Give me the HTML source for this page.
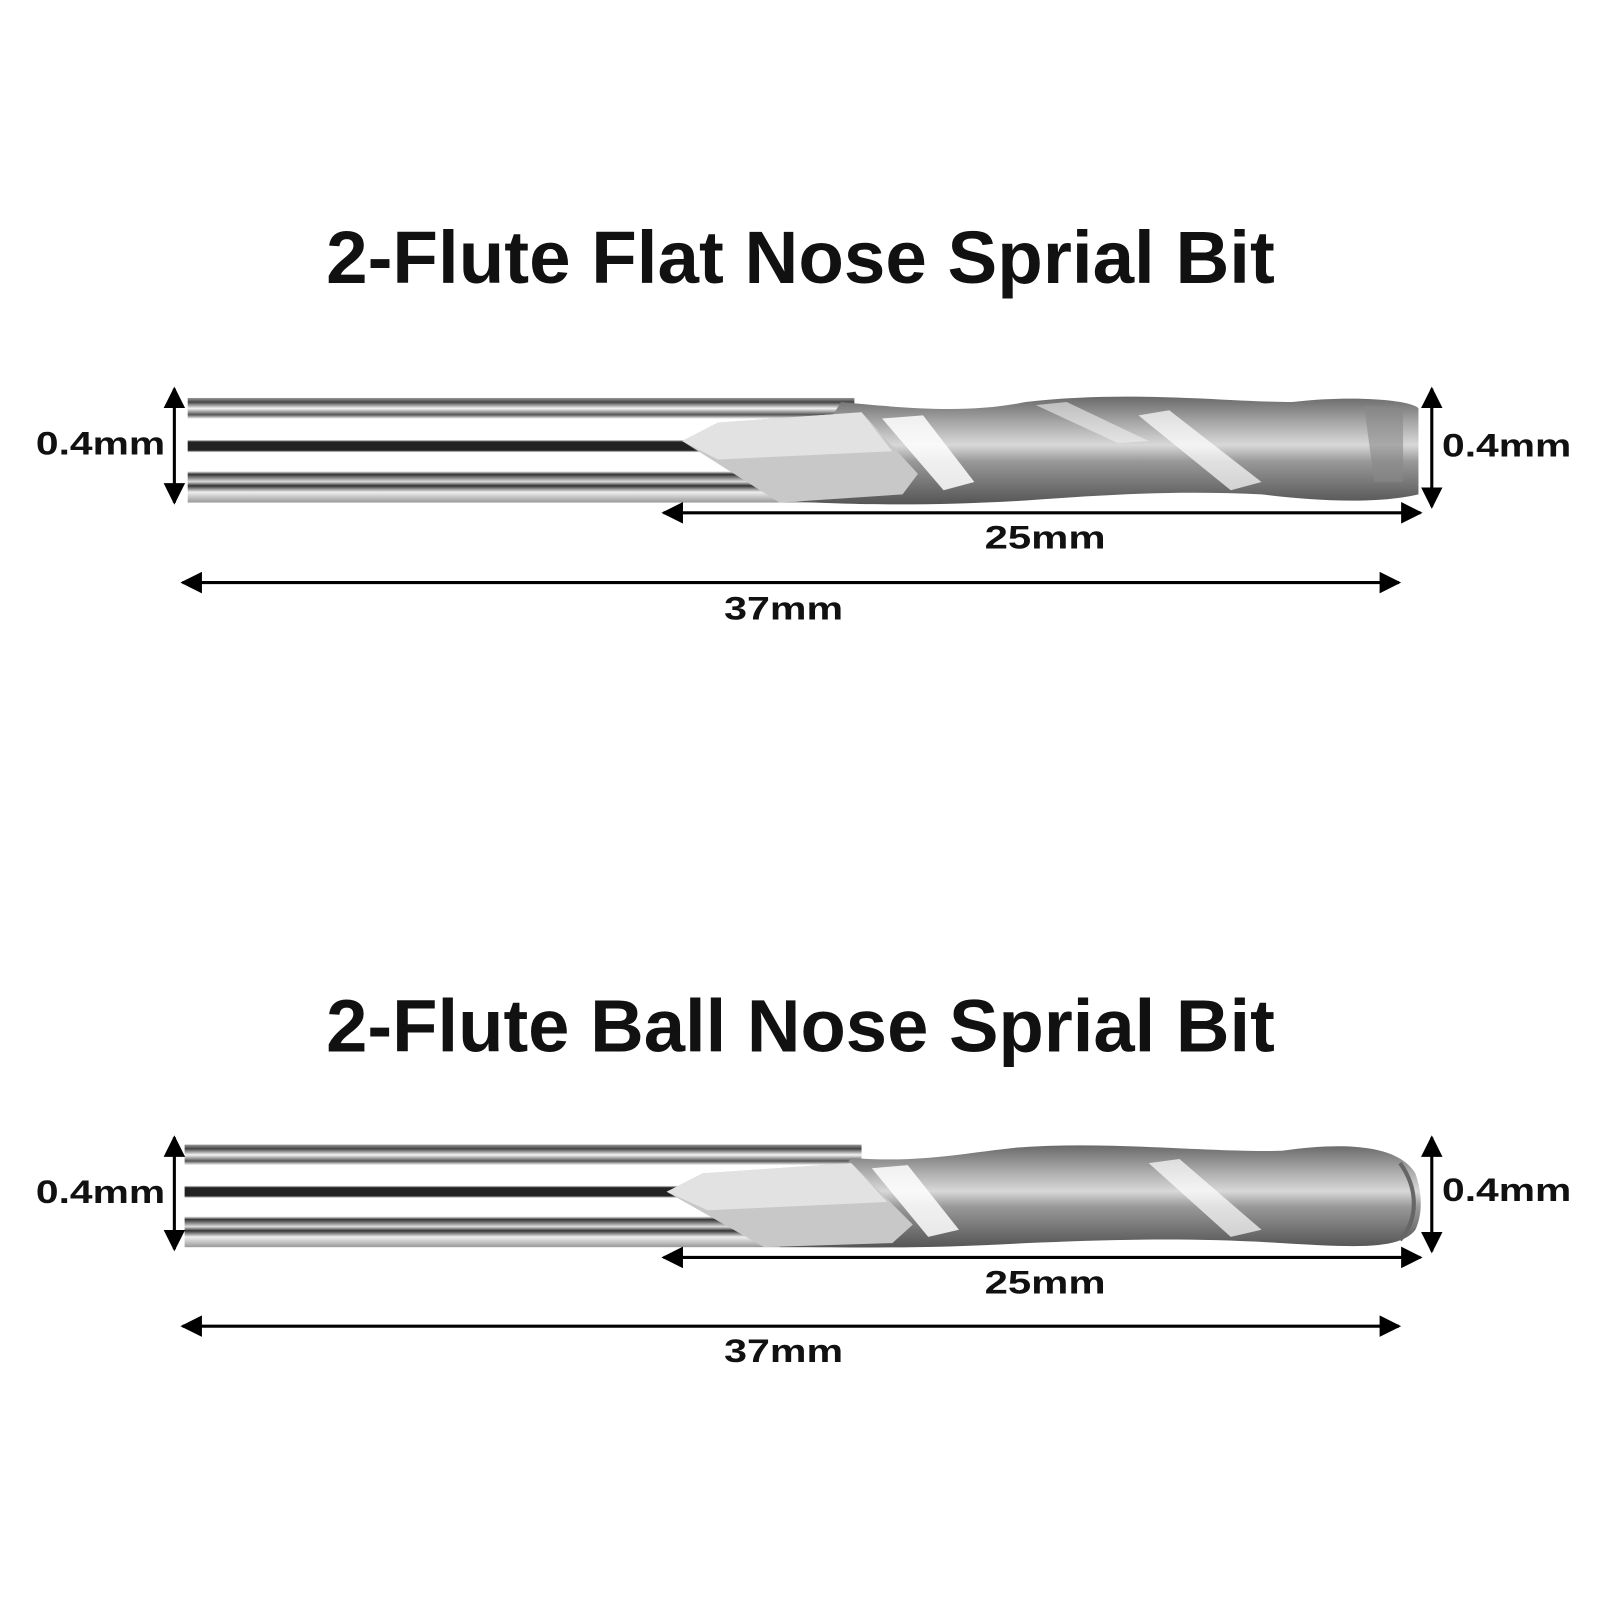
<!DOCTYPE html>
<html><head><meta charset="utf-8"><style>html,body{margin:0;padding:0;background:#fff}svg{display:block}</style></head>
<body>
<svg width="1600" height="1600" viewBox="0 0 1600 1600" xmlns="http://www.w3.org/2000/svg">
<defs>
<linearGradient id="shank" x1="0" y1="0" x2="0" y2="1">
<stop offset="0" stop-color="#9a9a9a"/><stop offset="0.04" stop-color="#444"/><stop offset="0.1" stop-color="#f4f4f4"/>
<stop offset="0.16" stop-color="#555"/><stop offset="0.2" stop-color="#fff"/><stop offset="0.4" stop-color="#fff"/>
<stop offset="0.42" stop-color="#222"/><stop offset="0.5" stop-color="#222"/><stop offset="0.52" stop-color="#fff"/>
<stop offset="0.7" stop-color="#fff"/><stop offset="0.73" stop-color="#333"/><stop offset="0.8" stop-color="#ddd"/>
<stop offset="0.84" stop-color="#333"/><stop offset="0.9" stop-color="#eee"/><stop offset="1" stop-color="#999"/>
</linearGradient>
<linearGradient id="flute" x1="0" y1="0" x2="0" y2="1">
<stop offset="0" stop-color="#6a6a6a"/><stop offset="0.25" stop-color="#aaa"/><stop offset="0.45" stop-color="#d8d8d8"/>
<stop offset="0.6" stop-color="#999"/><stop offset="0.8" stop-color="#777"/><stop offset="1" stop-color="#555"/>
</linearGradient>
<marker id="ah" viewBox="0 0 10 10" refX="9" refY="5" markerWidth="7" markerHeight="7" orient="auto-start-reverse">
<path d="M0,0 L10,5 L0,10 z" fill="#000"/></marker>
</defs>
<g transform="scale(1.02564)">
<g font-family="Liberation Sans, sans-serif" font-weight="bold" fill="#111">
<text x="318" y="276" font-size="72" textLength="925" lengthAdjust="spacingAndGlyphs">2-Flute Flat Nose Sprial Bit</text>
<text x="318" y="1025" font-size="72" textLength="925" lengthAdjust="spacingAndGlyphs">2-Flute Ball Nose Sprial Bit</text>
</g>

<g>
<rect x="183" y="388" width="650" height="102" fill="url(#shank)"/>
<path d="M820,392 C900,400 950,402 1000,392 C1100,380 1200,392 1260,392 C1320,385 1375,390 1383,398 L1383,482 C1340,492 1280,488 1230,482 C1150,478 1080,482 1000,488 C900,494 820,492 760,488 Z" fill="url(#flute)"/>
<path d="M665,430 L700,412 L840,402 L895,462 L880,482 L760,490 Z" fill="#c8c8c8"/>
<path d="M665,430 L700,412 L840,402 L870,440 L700,448 Z" fill="#e2e2e2"/>
<path d="M860,408 L900,405 L950,470 L920,478 Z" fill="#fff" opacity="0.85"/>
<path d="M1110,405 L1140,400 L1230,470 L1200,478 Z" fill="#fff" opacity="0.7"/>
<path d="M1010,395 L1040,392 L1120,430 L1090,432 Z" fill="#eee" opacity="0.6"/>
<path d="M1330,396 L1368,398 L1368,470 L1340,470 Z" fill="#888" opacity="0.6"/>
</g>

<g transform="translate(0,-6)">
<rect x="180" y="1122" width="660" height="100" fill="url(#shank)"/>
<path d="M830,1135 C900,1140 940,1130 990,1125 C1080,1118 1180,1130 1250,1128 C1320,1118 1365,1125 1380,1150 C1387,1170 1387,1190 1380,1205 C1365,1225 1320,1222 1250,1218 C1150,1212 1080,1215 1000,1218 C900,1224 820,1222 760,1222 Z" fill="url(#flute)"/>
<path d="M650,1168 L685,1150 L830,1140 L890,1200 L870,1218 L745,1222 Z" fill="#c8c8c8"/>
<path d="M650,1168 L685,1150 L830,1140 L865,1178 L690,1186 Z" fill="#e2e2e2"/>
<path d="M850,1145 L885,1142 L935,1205 L905,1212 Z" fill="#fff" opacity="0.85"/>
<path d="M1120,1140 L1150,1136 L1230,1205 L1200,1212 Z" fill="#fff" opacity="0.7"/>
<path d="M1365,1140 C1383,1165 1383,1195 1365,1215" stroke="#666" stroke-width="4" fill="none"/>
</g>

<g stroke="#000" stroke-width="3" fill="none" marker-start="url(#ah)" marker-end="url(#ah)">
<line x1="170" y1="379" x2="170" y2="490"/>
<line x1="1396" y1="379" x2="1396" y2="494"/>
<line x1="647" y1="500" x2="1385" y2="500"/>
<line x1="178" y1="568" x2="1364" y2="568"/>
<line x1="170" y1="1109" x2="170" y2="1218"/>
<line x1="1396" y1="1109" x2="1396" y2="1220"/>
<line x1="647" y1="1226" x2="1385" y2="1226"/>
<line x1="178" y1="1293" x2="1364" y2="1293"/>
</g>

<g font-family="Liberation Sans, sans-serif" font-weight="bold" font-size="32" fill="#111">
<text x="35" y="443" textLength="126" lengthAdjust="spacingAndGlyphs">0.4mm</text>
<text x="1406" y="445" textLength="126" lengthAdjust="spacingAndGlyphs">0.4mm</text>
<text x="960" y="535" textLength="118" lengthAdjust="spacingAndGlyphs">25mm</text>
<text x="706" y="604" textLength="116" lengthAdjust="spacingAndGlyphs">37mm</text>
<text x="35" y="1173" textLength="126" lengthAdjust="spacingAndGlyphs">0.4mm</text>
<text x="1406" y="1171" textLength="126" lengthAdjust="spacingAndGlyphs">0.4mm</text>
<text x="960" y="1261" textLength="118" lengthAdjust="spacingAndGlyphs">25mm</text>
<text x="706" y="1328" textLength="116" lengthAdjust="spacingAndGlyphs">37mm</text>
</g>
</g>
</svg>
</body></html>
